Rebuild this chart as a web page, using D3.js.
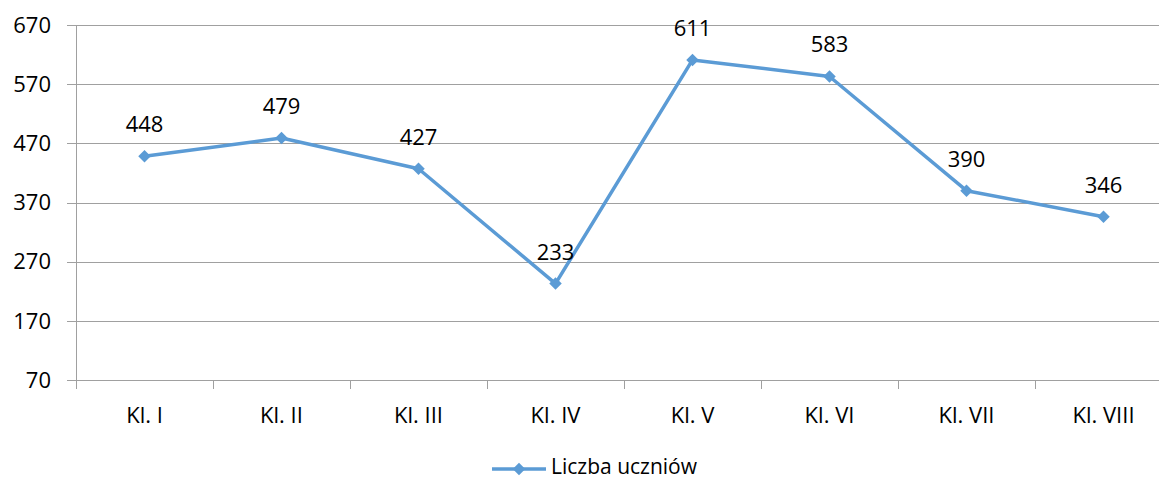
<!DOCTYPE html>
<html>
<head>
<meta charset="utf-8">
<script src="https://cdn.jsdelivr.net/npm/d3@7"></script>
<style>
  body { margin: 0; background: #fff; }
  text { font-family: "Open Sans", "Noto Sans", sans-serif; fill: #000; }
</style>
</head>
<body>
<div id="chart"></div>
<script>
var categories = ["Kl. I", "Kl. II", "Kl. III", "Kl. IV", "Kl. V", "Kl. VI", "Kl. VII", "Kl. VIII"];
var values = [448, 479, 427, 233, 611, 583, 390, 346];
var yTicks = [70, 170, 270, 370, 470, 570, 670];
var seriesName = "Liczba uczniów";

var lineColor = "#5b9bd5";
var gridColor = "#a0a0a0";

var width = 1159, height = 479;
var plotLeft = 76, plotTop = 25, plotBottom = 380;
var fontSize = "22px";

var svg = d3.select("#chart")
    .append("svg")
    .attr("width", width)
    .attr("height", height);

// band scale for categories, plot runs off the right edge like the original
var x = d3.scaleBand().domain(categories).range([plotLeft, plotLeft + 137 * categories.length]);
var y = d3.scaleLinear().domain([70, 670]).range([plotBottom, plotTop]);

// horizontal grid lines + left ticks
svg.append("g")
    .selectAll("line")
    .data(yTicks)
    .enter().append("line")
    .attr("x1", plotLeft - 9)
    .attr("x2", width)
    .attr("y1", function(d) { return Math.round(y(d)) + 0.5; })
    .attr("y2", function(d) { return Math.round(y(d)) + 0.5; })
    .style("stroke", gridColor)
    .style("stroke-width", 1);

// y axis line
svg.append("line")
    .attr("x1", plotLeft + 0.5).attr("x2", plotLeft + 0.5)
    .attr("y1", plotTop).attr("y2", plotBottom + 9)
    .style("stroke", gridColor);

// category tick marks
var tickPos = categories.map(function(c) { return x(c); });
svg.append("g")
    .selectAll("line")
    .data(tickPos.slice(1))
    .enter().append("line")
    .attr("x1", function(d) { return Math.round(d) + 0.5; })
    .attr("x2", function(d) { return Math.round(d) + 0.5; })
    .attr("y1", plotBottom)
    .attr("y2", plotBottom + 9)
    .style("stroke", gridColor);

// y labels
svg.append("g")
    .selectAll("text")
    .data(yTicks)
    .enter().append("text")
    .attr("x", 51)
    .attr("y", function(d) { return y(d); })
    .attr("dy", "0.35em")
    .attr("text-anchor", "end")
    .style("font-size", fontSize)
    .text(function(d) { return d; });

// x labels
svg.append("g")
    .selectAll("text")
    .data(categories)
    .enter().append("text")
    .attr("x", function(d) { return x(d) + x.bandwidth() / 2; })
    .attr("y", 423)
    .attr("text-anchor", "middle")
    .style("font-size", fontSize)
    .text(function(d) { return d; });

var pts = categories.map(function(c, i) { return {cat: c, val: values[i]}; });

var line = d3.line()
    .x(function(d) { return x(d.cat) + x.bandwidth() / 2; })
    .y(function(d) { return y(d.val); });

svg.append("path")
    .datum(pts)
    .attr("d", line)
    .style("fill", "none")
    .style("stroke", lineColor)
    .style("stroke-width", 3.5)
    .style("stroke-linejoin", "round");

var diamond = d3.symbol().type(d3.symbolDiamond2).size(100);

svg.append("g")
    .selectAll("path")
    .data(pts)
    .enter().append("path")
    .attr("d", diamond)
    .attr("transform", function(d) {
        return "translate(" + (x(d.cat) + x.bandwidth() / 2) + "," + y(d.val) + ")";
    })
    .style("fill", lineColor);

// data labels
svg.append("g")
    .selectAll("text")
    .data(pts)
    .enter().append("text")
    .attr("x", function(d) { return x(d.cat) + x.bandwidth() / 2; })
    .attr("y", function(d) { return y(d.val) - 24; })
    .attr("text-anchor", "middle")
    .style("font-size", fontSize)
    .text(function(d) { return d.val; });

// legend
var lg = svg.append("g");
lg.append("line")
    .attr("x1", 492).attr("x2", 546)
    .attr("y1", 469).attr("y2", 469)
    .style("stroke", lineColor)
    .style("stroke-width", 3.5);
lg.append("path")
    .attr("d", diamond)
    .attr("transform", "translate(519,469)")
    .style("fill", lineColor);
lg.append("text")
    .attr("x", 551)
    .attr("y", 474)
    .style("font-size", "21px")
    .text(seriesName);
</script>
</body>
</html>
